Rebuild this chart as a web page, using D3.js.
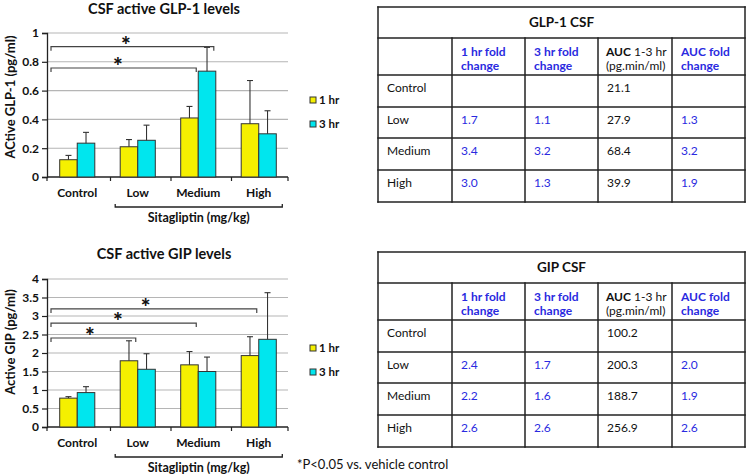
<!DOCTYPE html>
<html><head><meta charset="utf-8">
<script src="https://cdn.jsdelivr.net/npm/d3@7"></script>
<style>
html,body{margin:0;padding:0;background:#fff;}
svg{display:block;font-family:Lato,"Open Sans",sans-serif;}
</style></head>
<body><svg id="c" width="746" height="474"></svg>
<script>
// ---------- data ----------
const categories = ["Control", "Low", "Medium", "High"];
const seriesNames = ["1 hr", "3 hr"];

const glpMean1 = [0.12, 0.21, 0.41, 0.37];
const glpSd1   = [0.03, 0.05, 0.08, 0.30];
const glpMean3 = [0.235, 0.255, 0.735, 0.30];
const glpSd3   = [0.075, 0.105, 0.165, 0.16];
const glpTicks = [0, 0.2, 0.4, 0.6, 0.8, 1];
const glpBrackets = [
  {to: "Medium", series: "3 hr", level: 0.905},
  {to: "Medium", series: "1 hr", level: 0.757}
];

const gipMean1 = [0.78, 1.79, 1.68, 1.93];
const gipSd1   = [0.04, 0.54, 0.36, 0.51];
const gipMean3 = [0.93, 1.56, 1.50, 2.37];
const gipSd3   = [0.16, 0.42, 0.39, 1.26];
const gipTicks = [0, 0.5, 1, 1.5, 2, 2.5, 3, 3.5, 4];
const gipBrackets = [
  {to: "Low", series: "1 hr", level: 2.405},
  {to: "Medium", series: "1 hr", level: 2.81},
  {to: "High", series: "1 hr", level: 3.19}
];

const tableRowLabels = ["Control", "Low", "Medium", "High"];
const glpFold1 = ["", "1.7", "3.4", "3.0"];
const glpFold3 = ["", "1.1", "3.2", "1.3"];
const glpAuc   = ["21.1", "27.9", "68.4", "39.9"];
const glpAucFold = ["", "1.3", "3.2", "1.9"];
const gipFold1 = ["", "2.4", "2.2", "2.6"];
const gipFold3 = ["", "1.7", "1.6", "2.6"];
const gipAuc   = ["100.2", "200.3", "188.7", "256.9"];
const gipAucFold = ["", "2.0", "1.9", "2.6"];

// ---------- style ----------
const colors = {"1 hr": "#f5f000", "3 hr": "#00e6ee"};
const blue = "#2a2ae0";
const svg = d3.select("#c");

function chart(opt) {
  const g = svg.append("g");
  const y = d3.scaleLinear().domain(opt.domain).range([opt.y0, opt.y1]);
  const x = d3.scaleBand().domain(categories).range([47, 289]).paddingInner(0.42).paddingOuter(0.21);
  const x1 = d3.scaleBand().domain(seriesNames).range([0, x.bandwidth()]);
  const left = 47, right = 288;

  // gridlines
  g.append("g").selectAll("line").data(opt.ticks.filter(t => t > 0)).join("line")
    .attr("x1", left).attr("x2", right).attr("y1", d => y(d)).attr("y2", d => y(d))
    .attr("stroke", "#b5b5b5").attr("stroke-width", 1.1);

  // y axis
  const ya = g.append("g").attr("transform", `translate(${left},0)`)
    .call(d3.axisLeft(y).tickValues(opt.ticks).tickSize(5).tickPadding(3).tickFormat(d3.format("")));
  ya.select(".domain").attr("stroke", "#222").attr("stroke-width", 1.3);
  ya.selectAll(".tick line").attr("stroke", "#222").attr("stroke-width", 1.2);
  ya.selectAll("text").attr("font-size", 12).attr("font-weight", "bold").attr("fill", "#111")
    .attr("font-family", "Lato, sans-serif");

  // x axis
  g.append("line").attr("x1", left).attr("x2", right).attr("y1", y(0)).attr("y2", y(0))
    .attr("stroke", "#222").attr("stroke-width", 1.3);
  const bounds = categories.map(c => x(c) - x.step() * x.paddingInner() / 2 + 3).concat([right]);
  bounds[0] = left;
  g.append("g").selectAll("line").data(bounds).join("line")
    .attr("x1", d => d).attr("x2", d => d).attr("y1", y(0)).attr("y2", y(0) + 4)
    .attr("stroke", "#222").attr("stroke-width", 1.2);
  g.append("g").selectAll("text").data(categories).join("text")
    .attr("x", d => x(d) + x.bandwidth() / 2).attr("y", y(0) + 20)
    .attr("text-anchor", "middle").attr("font-size", 12).attr("font-weight", "bold").attr("fill", "#111")
    .text(d => d);

  // bars
  const data = [];
  categories.forEach((c, i) => {
    data.push({c, s: "1 hr", v: opt.m1[i], e: opt.s1[i]});
    data.push({c, s: "3 hr", v: opt.m3[i], e: opt.s3[i]});
  });
  g.append("g").selectAll("rect").data(data).join("rect")
    .attr("x", d => x(d.c) + x1(d.s)).attr("width", x1.bandwidth())
    .attr("y", d => y(d.v)).attr("height", d => y(0) - y(d.v))
    .attr("fill", d => colors[d.s]).attr("stroke", "#333").attr("stroke-width", 1);
  // error bars
  const eg = g.append("g").attr("stroke", "#333").attr("stroke-width", 1.1);
  eg.selectAll("line.v").data(data).join("line").attr("class", "v")
    .attr("x1", d => x(d.c) + x1(d.s) + x1.bandwidth() / 2).attr("x2", d => x(d.c) + x1(d.s) + x1.bandwidth() / 2)
    .attr("y1", d => y(d.v)).attr("y2", d => y(d.v + d.e));
  eg.selectAll("line.h").data(data).join("line").attr("class", "h")
    .attr("x1", d => x(d.c) + x1(d.s) + x1.bandwidth() / 2 - 3).attr("x2", d => x(d.c) + x1(d.s) + x1.bandwidth() / 2 + 3)
    .attr("y1", d => y(d.v + d.e)).attr("y2", d => y(d.v + d.e));

  // significance brackets
  const bg = g.append("g");
  opt.brackets.forEach(b => {
    const x0 = left + 4;
    const xe = x(b.to) + x1(b.series) + x1.bandwidth() - 2;
    const yy = y(b.level);
    bg.append("path").attr("d", `M${x0},${yy + 4}V${yy}H${xe}V${yy + 4}`)
      .attr("fill", "none").attr("stroke", "#444").attr("stroke-width", 1.2);
    bg.append("text").attr("x", x0 + (xe - x0) * 0.46).attr("y", yy + 6)
      .attr("text-anchor", "middle").attr("font-size", 23).attr("font-weight", "900").attr("fill", "#111")
      .text("*");
  });

  // Sitagliptin bracket
  const sx0 = x("Low") - 5, sx1 = x("High") + x.bandwidth() + 6;
  const sy = y(0) + 30;
  g.append("path").attr("d", `M${sx0},${sy - 3}V${sy}H${sx1}V${sy - 3}`)
    .attr("fill", "none").attr("stroke", "#222").attr("stroke-width", 1.3);
  g.append("text").attr("x", (sx0 + sx1) / 2).attr("y", sy + 15).attr("text-anchor", "middle")
    .attr("font-size", 12.5).attr("font-weight", "bold").attr("fill", "#111").text("Sitagliptin (mg/kg)");

  // title
  g.append("text").attr("x", 164).attr("y", opt.titleY).attr("text-anchor", "middle")
    .attr("font-size", 14.5).attr("font-weight", "bold").attr("fill", "#111").text(opt.title);
  // y label
  g.append("text").attr("transform", `translate(15,${opt.labelY}) rotate(-90)`).attr("text-anchor", "middle")
    .attr("font-size", 13).attr("font-weight", "bold").attr("fill", "#111").text(opt.ylabel);

  // legend
  const lg = g.append("g");
  seriesNames.forEach((s, i) => {
    const ly = opt.legendY + i * 24;
    lg.append("rect").attr("x", 310).attr("y", ly - 3).attr("width", 6).attr("height", 6)
      .attr("fill", colors[s]).attr("stroke", "#333").attr("stroke-width", 1);
    lg.append("text").attr("x", 319).attr("y", ly + 4).attr("font-size", 11.5).attr("font-weight", "bold")
      .attr("fill", "#111").text(s);
  });
}

chart({domain: [0, 1], y0: 177, y1: 33, ticks: glpTicks, m1: glpMean1, s1: glpSd1, m3: glpMean3, s3: glpSd3,
  brackets: glpBrackets, title: "CSF active GLP-1 levels", titleY: 14, ylabel: "ACtive GLP-1 (pg/ml)", labelY: 97, legendY: 100});
chart({domain: [0, 4], y0: 427, y1: 279, ticks: gipTicks, m1: gipMean1, s1: gipSd1, m3: gipMean3, s3: gipSd3,
  brackets: gipBrackets, title: "CSF active GIP levels", titleY: 259, ylabel: "Active GIP (pg/ml)", labelY: 342, legendY: 348});

svg.append("text").attr("x", 297).attr("y", 469).attr("font-size", 13).attr("fill", "#111")
  .text("*P<0.05 vs. vehicle control");

// ---------- tables ----------
function table(opt) {
  const g = svg.append("g");
  const xs = [378, 452, 525, 598, 672, 745];
  const t = opt.top;
  const ys = [t, t + 31, t + 68, t + 100, t + 131, t + 163, t + 195];
  const fs = 12;
  // lines
  const lines = [];
  ys.forEach(v => lines.push([xs[0], v, xs[5], v]));
  lines.push([xs[0], ys[0], xs[0], ys[6]]);
  lines.push([xs[5], ys[0], xs[5], ys[6]]);
  xs.slice(1, 5).forEach(v => lines.push([v, ys[1], v, ys[6]]));
  g.selectAll("line").data(lines).join("line")
    .attr("x1", d => d[0]).attr("y1", d => d[1]).attr("x2", d => d[2]).attr("y2", d => d[3])
    .attr("stroke", "#222").attr("stroke-width", 1.5).attr("stroke-linecap", "square");
  g.append("text").attr("x", (xs[0] + xs[5]) / 2).attr("y", ys[0] + 20).attr("text-anchor", "middle")
    .attr("font-size", 13.5).attr("font-weight", "bold").attr("fill", "#111").text(opt.title);
  // headers
  const hy = ys[1] + 18;
  const blueHead = [["1 hr fold", "change"], ["3 hr fold", "change"]];
  blueHead.forEach((h, i) => {
    h.forEach((ln, j) => g.append("text").attr("x", xs[i + 1] + 9).attr("y", hy + j * 14)
      .attr("font-size", fs).attr("font-weight", "bold").attr("fill", blue).text(ln));
  });
  const auc = g.append("text").attr("x", xs[3] + 8).attr("y", hy).attr("font-size", fs).attr("fill", "#111");
  auc.append("tspan").attr("font-weight", "bold").text("AUC");
  auc.append("tspan").text(" 1-3 hr");
  g.append("text").attr("x", xs[3] + 8).attr("y", hy + 14).attr("font-size", fs).attr("fill", "#111").text("(pg.min/ml)");
  ["AUC fold", "change"].forEach((ln, j) => g.append("text").attr("x", xs[4] + 9).attr("y", hy + j * 14)
    .attr("font-size", fs).attr("font-weight", "bold").attr("fill", blue).text(ln));
  // body
  const cols = [tableRowLabels, opt.f1, opt.f3, opt.auc, opt.af];
  const colColor = ["#111", blue, blue, "#111", blue];
  cols.forEach((col, ci) => {
    g.append("g").selectAll("text").data(col).join("text")
      .attr("x", xs[ci] + 9).attr("y", (d, ri) => ys[ri + 2] + 17)
      .attr("font-size", fs).attr("fill", colColor[ci]).text(d => d);
  });
}
table({top: 7, title: "GLP-1 CSF", f1: glpFold1, f3: glpFold3, auc: glpAuc, af: glpAucFold});
table({top: 252, title: "GIP CSF", f1: gipFold1, f3: gipFold3, auc: gipAuc, af: gipAucFold});
</script></body></html>
